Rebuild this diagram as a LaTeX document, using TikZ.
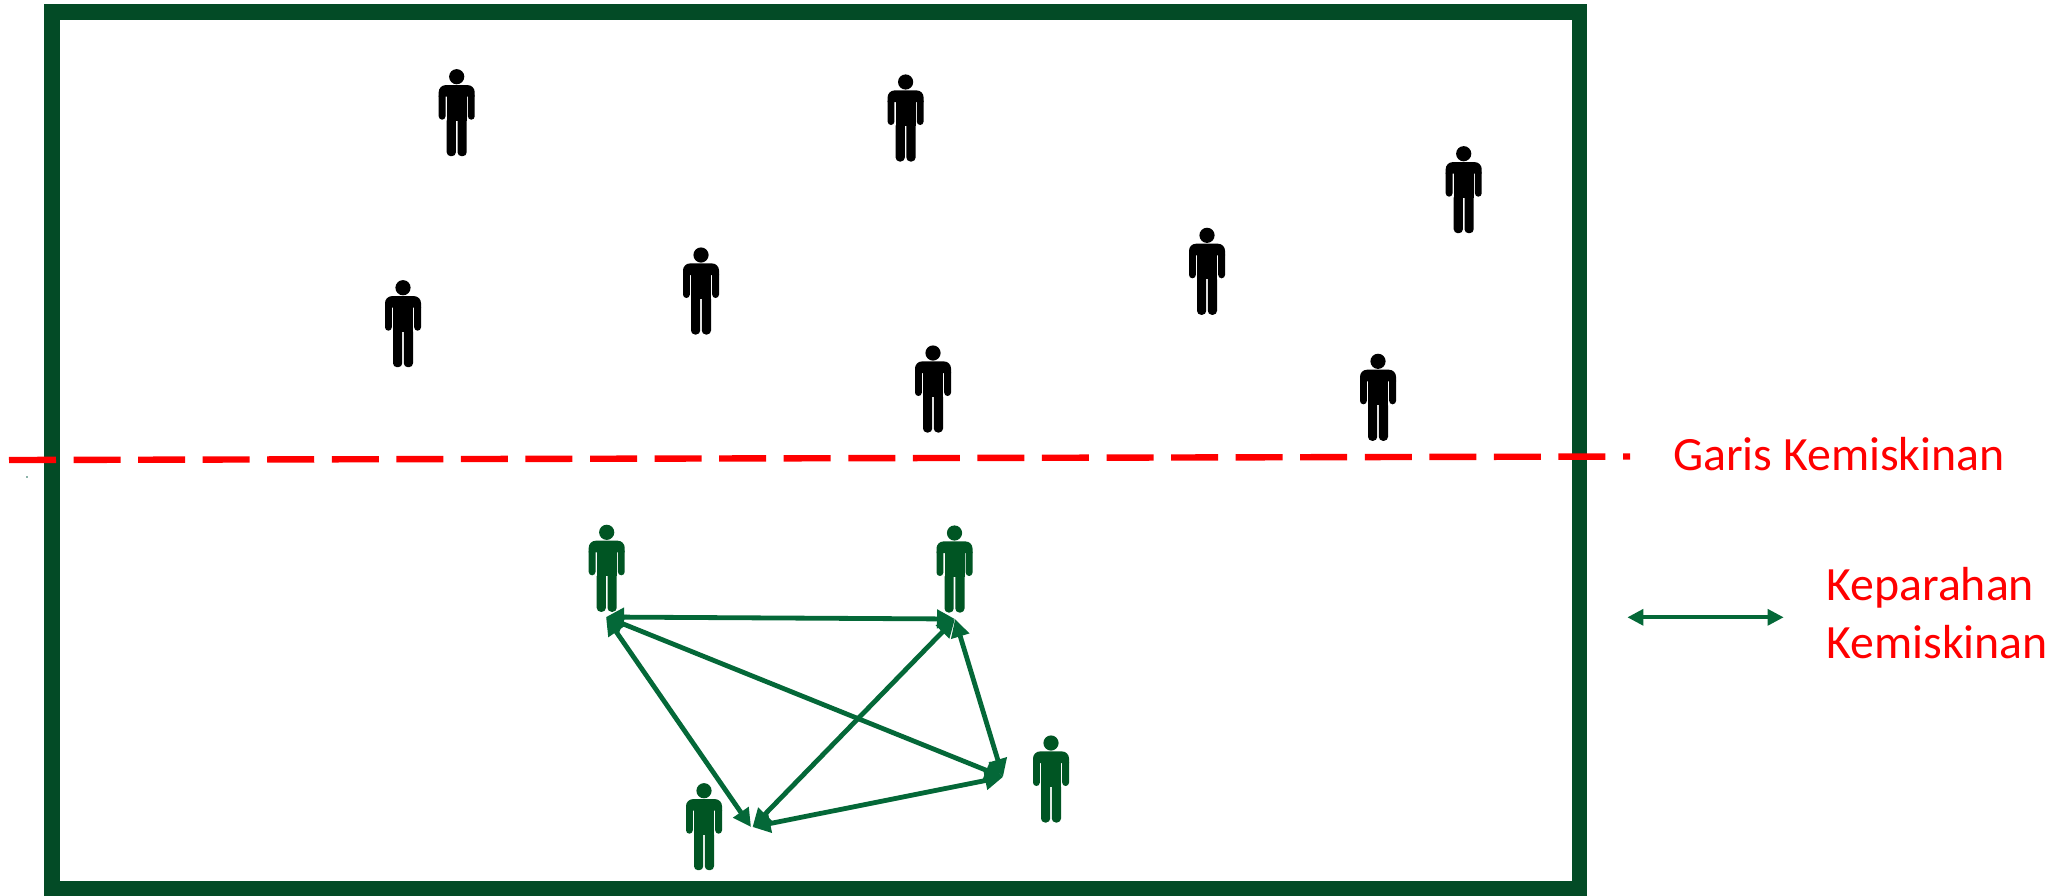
\documentclass[tikz,border=0pt]{standalone}
\usepackage{fontspec}
\setmainfont{Carlito}
\usetikzlibrary{arrows.meta}
\definecolor{framegreen}{RGB}{3,75,38}
\definecolor{persongreen}{RGB}{0,85,35}
\definecolor{arrowgreen}{RGB}{4,104,56}
\definecolor{dotteal}{RGB}{140,180,170}
\tikzset{
  framebox/.style={draw=framegreen,line width=7.9pt},
  povline/.style={draw=red,line width=3.2pt,dash pattern=on 23.5pt off 8.78pt},
  linkarrow/.style={draw=arrowgreen,line width=2.4pt,{Stealth[length=9pt,width=9pt,inset=0pt]}-{Stealth[length=9pt,width=9pt,inset=0pt]}},
  legendarrow/.style={draw=arrowgreen,line width=2.1pt,{Stealth[length=8pt,width=7.8pt,inset=0pt]}-{Stealth[length=8pt,width=7.8pt,inset=0pt]}},
  redlabel/.style={text=red,font=\fontsize{23.9pt}{28pt}\selectfont,anchor=base west,inner sep=0pt,outer sep=0pt},
  blackperson/.style={fill=black},
  greenperson/.style={fill=persongreen},
  person/.pic={
    \path[pic actions] (0,0) circle[radius=7.6];
    \path[pic actions,rounded corners=1.7pt] (-18,16) -- (-18,43) -- (-11.2,43) -- (-11.2,16) -- cycle;
    \path[pic actions,rounded corners=1.7pt] (18,16) -- (18,43) -- (11.2,43) -- (11.2,16) -- cycle;
    \path[pic actions] (-18,20) [rounded corners=3.5pt] -- (-18,8.4) -- (18,8.4) [sharp corners] -- (18,20) -- cycle;
    \path[pic actions] (-10,12) rectangle (10,44);
    \path[pic actions,rounded corners=2pt] (-10,40) -- (-10,79.5) -- (-0.8,79.5) -- (-0.8,40) -- cycle;
    \path[pic actions,rounded corners=2pt] (10,40) -- (10,79.5) -- (0.8,79.5) -- (0.8,40) -- cycle;
  }
}
\begin{document}
\begin{tikzpicture}[x=0.5pt,y=-0.5pt]
\useasboundingbox (0,0) rectangle (2070,895);
% frame
\draw[framebox] (52,12.3) rectangle (1579.5,888.7);
\fill[dotteal] (26,476) rectangle (28,478);
% people above the line
\pic[blackperson] (b1) at (456.7,76.7) {person};
\pic[blackperson] (b2) at (905.6,82) {person};
\pic[blackperson] (b3) at (1463.7,153.7) {person};
\pic[blackperson] (b4) at (1207,235.3) {person};
\pic[blackperson] (b5) at (701,255) {person};
\pic[blackperson] (b6) at (403,287.7) {person};
\pic[blackperson] (b7) at (933,353) {person};
\pic[blackperson] (b8) at (1378,361.3) {person};
% people below the line
\pic[greenperson] (g1) at (606.7,532.3) {person};
\pic[greenperson] (g2) at (954.5,533) {person};
\pic[greenperson] (g3) at (1051,743) {person};
\pic[greenperson] (g4) at (704,790.7) {person};
% poverty line
\coordinate (lineL) at (9,460);
\coordinate (lineR) at (1630,456.5);
\draw[povline] (lineL) -- (lineR);
% connectors
\coordinate (A) at (606,617);
\coordinate (B) at (955,619);
\coordinate (C) at (752.5,827);
\coordinate (Cb) at (751,827);
\coordinate (D) at (1003,777);
\draw[linkarrow] (A) -- (B);
\draw[linkarrow] (A) -- (Cb);
\draw[linkarrow] (A) -- (D);
\draw[linkarrow] (C) -- (B);
\draw[linkarrow] (C) -- (D);
\draw[linkarrow] (D) -- (B);
% legend
\coordinate (legL) at (1627.3,617.3);
\coordinate (legR) at (1783.7,617.3);
\draw[legendarrow] (legL) -- (legR);
\node[redlabel] (garis) at (1673,470) {Garis Kemiskinan};
\node[redlabel] (kep) at (1826.5,600.7) {Keparahan};
\node[redlabel] (kem) at (1826.5,658.7) {Kemiskinan};
\end{tikzpicture}
\end{document}
